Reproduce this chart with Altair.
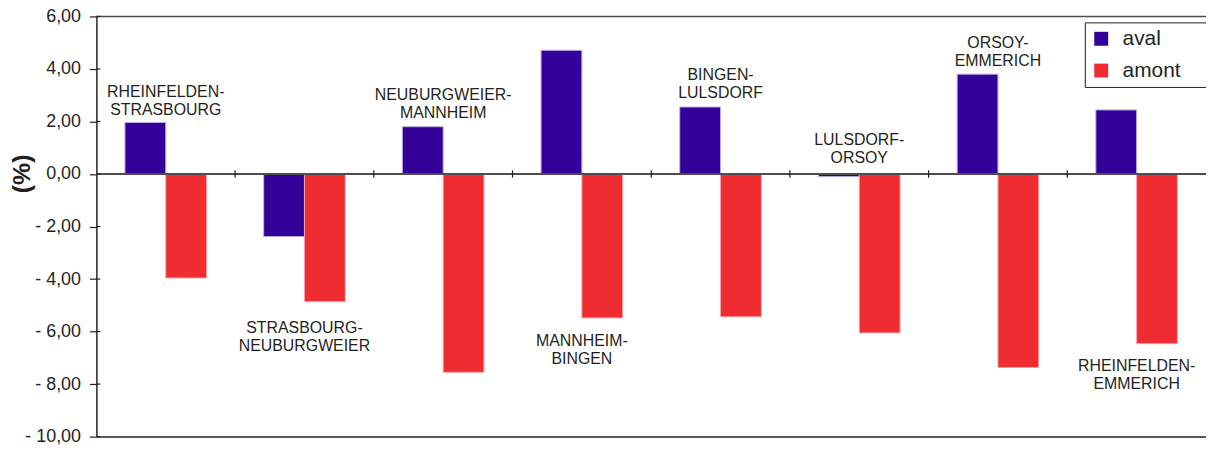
import altair as alt
import pandas as pd

groups = ["RHEINFELDEN-STRASBOURG", "STRASBOURG-NEUBURGWEIER", "NEUBURGWEIER-MANNHEIM",
          "MANNHEIM-BINGEN", "BINGEN-LULSDORF", "LULSDORF-ORSOY", "ORSOY-EMMERICH",
          "RHEINFELDEN-EMMERICH"]
aval = [1.96, -2.38, 1.80, 4.71, 2.55, -0.10, 3.80, 2.44]
amont = [-3.96, -4.86, -7.55, -5.48, -5.44, -6.05, -7.37, -6.46]
series = ["aval", "amont"]
label_lines = [["RHEINFELDEN-", "STRASBOURG"], ["STRASBOURG-", "NEUBURGWEIER"],
               ["NEUBURGWEIER-", "MANNHEIM"], ["MANNHEIM-", "BINGEN"],
               ["BINGEN-", "LULSDORF"], ["LULSDORF-", "ORSOY"],
               ["ORSOY-", "EMMERICH"], ["RHEINFELDEN-", "EMMERICH"]]
label_y = [2.86, -6.14, 2.74, -6.62, 3.49, 1.02, 4.73, -7.57]
y_ticks = [-10, -8, -6, -4, -2, 0, 2, 4, 6]

FONT = "Liberation Sans"
TXT = "#231f20"
PAD = "\u00a0\u2800"

rows = []
for g, a, m in zip(groups, aval, amont):
    rows.append({"group": g, "series": "aval", "value": a})
    rows.append({"group": g, "series": "amont", "value": m})
df = pd.DataFrame(rows)
lab_df = pd.DataFrame({"group": groups, "text": label_lines, "value": label_y})
bound_df = pd.DataFrame({"group": groups[1:]})
tick_df = pd.DataFrame({"value": y_ticks})

xscale = alt.Scale(paddingInner=0, paddingOuter=0)
yscale = alt.Scale(domain=[-10, 6], nice=False)

xaxis = alt.Axis(labels=False, ticks=False, title=None,
                 domainColor=TXT, domainWidth=1.5)
yaxis = alt.Axis(values=y_ticks, grid=False,
                 labelExpr="(datum.value < 0 ? '- ' : '') + replace(format(abs(datum.value), '.2f'), '.', ',')",
                 labelFont=FONT, labelFontSize=18, labelColor=TXT,
                 labelPadding=9, tickSize=7, tickColor=TXT, tickWidth=1.2,
                 domainColor=TXT, domainWidth=1.5,
                 title="(%)", titleFont=FONT, titleFontSize=25,
                 titleFontWeight="bold", titleColor=TXT,
                 titleAngle=-90, titleAlign="center",
                 titleBaseline="alphabetic", titleX=-67, titleY=158)

X = lambda **kw: alt.X("group:N", sort=groups, scale=xscale, axis=xaxis, title=None, **kw)
Y = lambda: alt.Y("value:Q", scale=yscale, axis=yaxis, title="(%)")

bars = alt.Chart(df).mark_bar(strokeWidth=1).encode(
    x=X(),
    xOffset=alt.XOffset("series:N", sort=series,
                        scale=alt.Scale(paddingInner=0, paddingOuter=0.7)),
    y=Y(),
    color=alt.Color("series:N", sort=series,
                    scale=alt.Scale(domain=series, range=["#330099", "#ee2c32"]),
                    legend=alt.Legend(title=None, orient="none", legendX=995, legendY=6,
                                      symbolType="square", symbolSize=196,
                                      symbolStrokeWidth=0,
                                      labelFont=FONT, labelFontSize=21, labelColor=TXT,
                                      labelOffset=11, rowPadding=10, padding=6,
                                      labelExpr="datum.label + '" + PAD + "'",
                                      strokeColor=TXT, fillColor="white")),
    stroke=alt.Stroke("series:N", sort=series,
                      scale=alt.Scale(domain=series, range=["#b9ace6", "#f7a5a5"]),
                      legend=None),
)

zero_rule = alt.Chart(pd.DataFrame({"value": [0]})).mark_rule(
    color="#4d4d4d", strokeWidth=2).encode(y=Y())
top_rule = alt.Chart(pd.DataFrame({"value": [6]})).mark_rule(
    color="#4d4d4d", strokeWidth=1.5).encode(y=Y())

bound_ticks = alt.Chart(bound_df).mark_rule(color=TXT, strokeWidth=1.2).encode(
    x=X(bandPosition=0),
    y=alt.datum(0.14, scale=yscale),
    y2=alt.datum(-0.14),
)

inner_ticks = alt.Chart(tick_df).mark_rule(color=TXT, strokeWidth=1.2).encode(
    y=Y(),
    x=alt.value(0), x2=alt.value(4),
)

labels = alt.Chart(lab_df).mark_text(
    font=FONT, fontSize=16, color=TXT, align="center", baseline="middle",
    lineHeight=18, dy=-7).encode(
    x=X(),
    y=Y(),
    text="text",
)

chart = alt.layer(bars, zero_rule, top_rule, bound_ticks, inner_ticks, labels).properties(
    width=1117, height=423,
    padding={"left": 89, "top": 7, "right": 0, "bottom": 12},
    autosize=alt.AutoSizeParams(type="none"),
    background="white",
).configure_view(stroke=None)

chart.save("out.html", embed_options={"renderer": "svg", "actions": False})
